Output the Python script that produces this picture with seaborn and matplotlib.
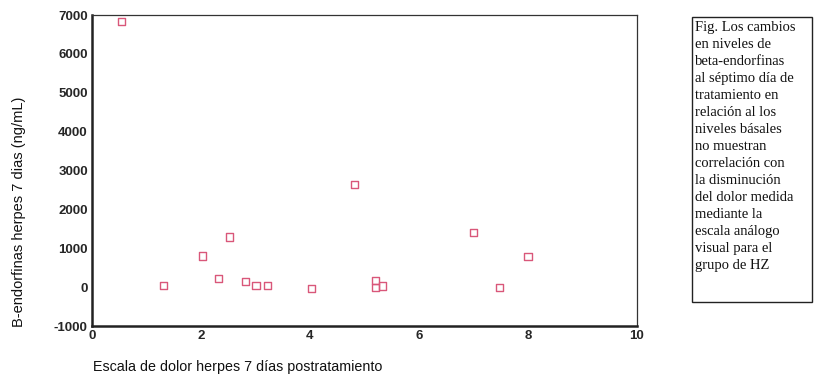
import matplotlib
matplotlib.use("Agg")
import matplotlib.pyplot as plt
import seaborn as sns
import pandas as pd

# Valores
dolor = [0.55, 1.32, 2.02, 2.32, 2.52, 2.81, 3.01, 3.22, 4.02, 4.82,
         5.20, 5.20, 5.33, 7.00, 7.48, 8.00]
endorfinas = [6830, 50, 800, 230, 1290, 150, 50, 50, -30, 2650,
              180, -20, 30, 1410, -20, 790]
xticks = [0, 2, 4, 6, 8, 10]
yticks = [-1000, 0, 1000, 2000, 3000, 4000, 5000, 6000, 7000]

nota = ("Fig. Los cambios\nen niveles de\nbeta-endorfinas\nal séptimo día de\n"
        "tratamiento en\nrelación al los\nniveles básales\nno muestran\n"
        "correlación con\nla disminución\ndel dolor medida\nmediante la\n"
        "escala análogo\nvisual para el\ngrupo de HZ")

data = pd.DataFrame({"dolor": dolor, "endorfinas": endorfinas})

sns.set_style("white")
plt.rcParams["font.family"] = ["Liberation Sans", "DejaVu Sans"]

fig = plt.figure(figsize=(8.14, 3.79), dpi=100)
ax = fig.add_axes([0.113, 0.1398, 0.6695, 0.8206])

sns.scatterplot(data=data, x="dolor", y="endorfinas", ax=ax, marker="s",
                s=26, facecolor="none", edgecolor="#d9577a", linewidth=1.0)

ax.set_xlim(0, 10)
ax.set_ylim(-1000, 7000)
ax.set_xticks(xticks)
ax.set_yticks(yticks)
ax.set_xticklabels([str(t) for t in xticks], fontsize=9.5, fontweight="bold")
ax.set_yticklabels([str(t) for t in yticks], fontsize=9.5, fontweight="bold")
ax.tick_params(axis="x", direction="in", length=3, width=2, pad=3)
ax.tick_params(axis="y", direction="out", length=2, width=2, pad=1)
for sp in ax.spines.values():
    sp.set_color("#333333")
    sp.set_linewidth(0.9)
ax.spines["left"].set_linewidth(1.8)
ax.spines["bottom"].set_linewidth(1.8)
ax.spines["left"].set_color("#222222")
ax.spines["bottom"].set_color("#222222")
ax.set_xlabel("")
ax.set_ylabel("")

fig.text(0.114, 0.012, "Escala de dolor herpes 7 días postratamiento",
         fontsize=10.3, ha="left", va="bottom", color="#111111")
fig.text(0.023, 0.44, "B-endorfinas herpes 7 dias (ng/mL)", rotation=90,
         fontsize=10.5, ha="center", va="center", color="#111111")

# Recuadro con la nota
box = plt.Rectangle((692 / 814, 1 - 302 / 379), 120 / 814, 285 / 379,
                    transform=fig.transFigure, fill=False,
                    edgecolor="#222222", linewidth=1.0)
fig.add_artist(box)
fig.text(695 / 814, 1 - 21 / 379, nota, family=["Liberation Serif", "DejaVu Serif"],
         fontsize=10.5, ha="left", va="top", linespacing=1.4, color="#111111")

fig.savefig("out.png", dpi=100)
